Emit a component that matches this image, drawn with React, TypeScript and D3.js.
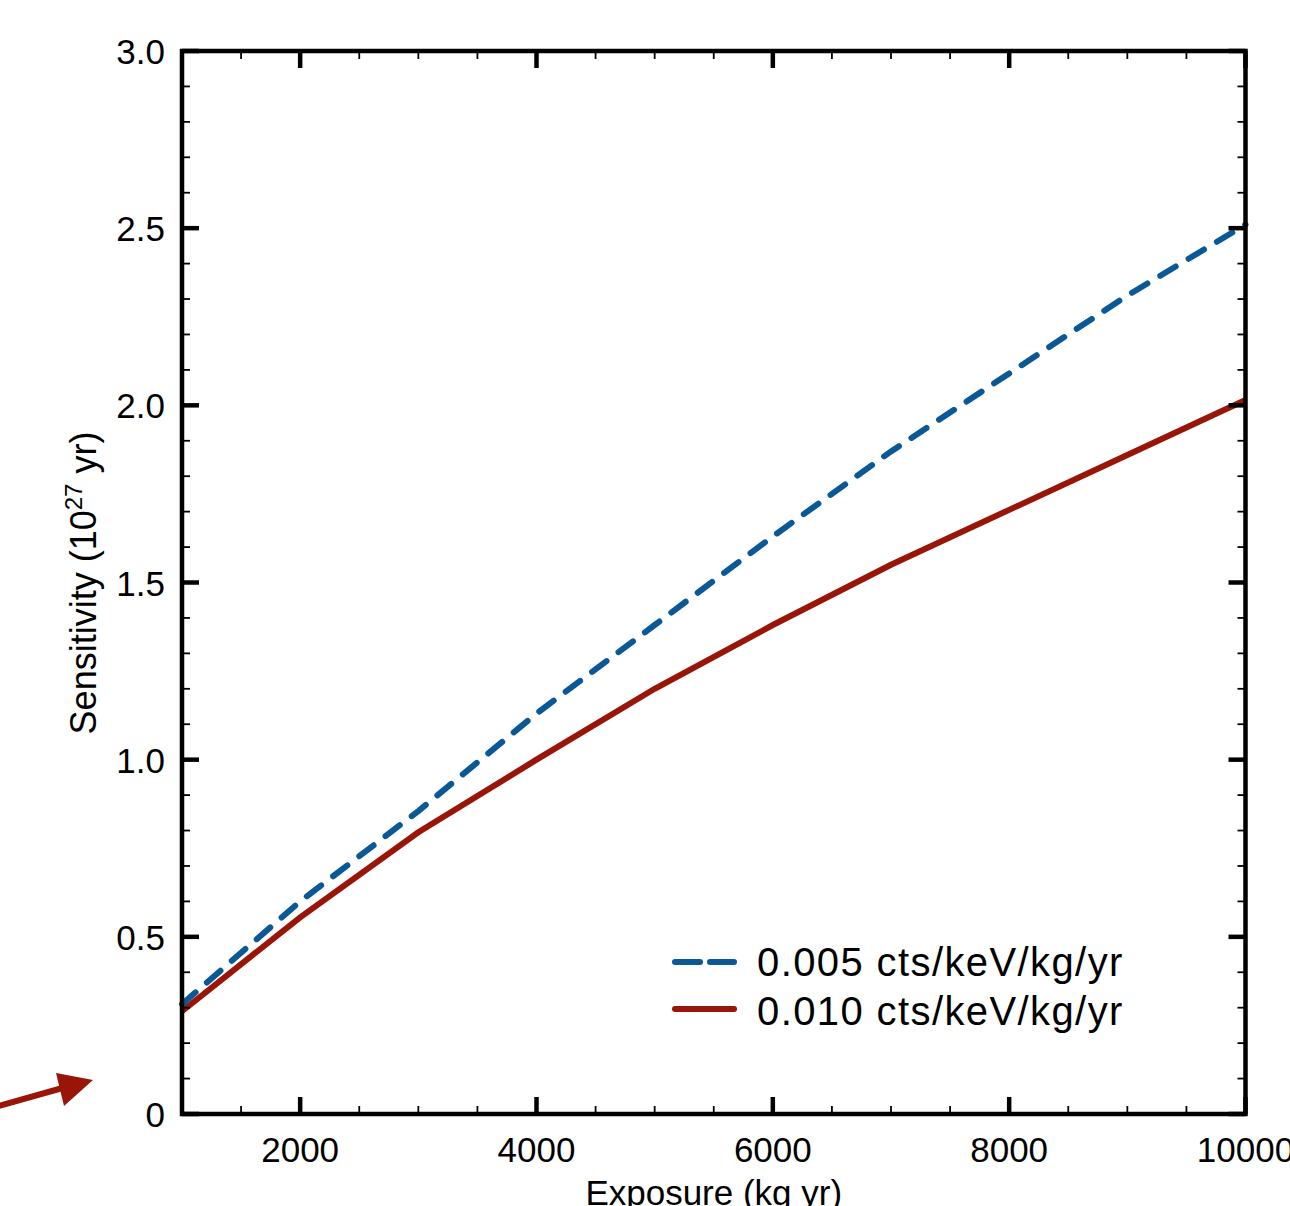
import React from "react"
import * as d3 from "d3"

// exposure (kg yr) vs sensitivity (10^27 yr)
const exposure = [1000, 2000, 3000, 4000, 5000, 6000, 7000, 8000, 9000, 10000]
const sens005 = [0.31, 0.60, 0.855, 1.13, 1.38, 1.63, 1.87, 2.09, 2.31, 2.51]
const sens010 = [0.29, 0.555, 0.795, 1.0, 1.20, 1.38, 1.55, 1.705, 1.86, 2.015]

const seriesNames = ["0.005 cts/keV/kg/yr", "0.010 cts/keV/kg/yr"]
const xTickLabels = ["2000", "4000", "6000", "8000", "10000"]
const yTickLabels = ["0", "0.5", "1.0", "1.5", "2.0", "2.5", "3.0"]

const BLUE = "#0b5897"
const RED = "#991508"
const FONT = "'Liberation Sans', Arial, Helvetica, sans-serif"

export default function App() {
    const left = 182, right = 1245.5, top = 51, bottom = 1114

    const x = d3.scaleLinear().domain([1000, 10000]).range([left, right])
    const y = d3.scaleLinear().domain([0, 3]).range([bottom, top])

    const xMajor = xTickLabels.map(Number)
    const xMinor = d3.range(1500, 10000, 500).filter(v => v % 2000 !== 0)
    const yMajor = yTickLabels.map(Number)
    const yMinor = d3.range(1, 30).filter(v => v % 5 !== 0).map(v => v / 10)

    const line = d3.line<number>()
        .x((d, i) => x(exposure[i]))
        .y(d => y(d))

    const majLen = 17, minLen = 8

    return (
        <svg width={1290} height={1206} style={{ position: "absolute", left: 0, top: 0, background: "white" }}
            fontFamily={FONT}>
            {/* curves */}
            <path d={line(sens010) || ""} fill="none" stroke={RED} strokeWidth={6} />
            <path d={line(sens005) || ""} fill="none" stroke={BLUE} strokeWidth={6}
                strokeDasharray="18 15" strokeLinecap="round" />

            {/* minor ticks */}
            <g stroke="black" strokeWidth={1.8}>
                {xMinor.map(v => (
                    <g key={"xm" + v}>
                        <line x1={x(v)} x2={x(v)} y1={bottom} y2={bottom - minLen} />
                        <line x1={x(v)} x2={x(v)} y1={top} y2={top + minLen} />
                    </g>
                ))}
                {yMinor.map(v => (
                    <g key={"ym" + v}>
                        <line x1={left} x2={left + minLen} y1={y(v)} y2={y(v)} />
                        <line x1={right} x2={right - minLen} y1={y(v)} y2={y(v)} />
                    </g>
                ))}
            </g>
            {/* major ticks */}
            <g stroke="black" strokeWidth={4.5}>
                {xMajor.map(v => (
                    <g key={"xM" + v}>
                        <line x1={x(v)} x2={x(v)} y1={bottom} y2={bottom - majLen} />
                        <line x1={x(v)} x2={x(v)} y1={top} y2={top + majLen} />
                    </g>
                ))}
                {yMajor.map(v => (
                    <g key={"yM" + v}>
                        <line x1={left} x2={left + majLen} y1={y(v)} y2={y(v)} />
                        <line x1={right} x2={right - majLen} y1={y(v)} y2={y(v)} />
                    </g>
                ))}
            </g>
            {/* frame */}
            <rect x={left} y={top} width={right - left} height={bottom - top}
                fill="none" stroke="black" strokeWidth={4.5} />

            {/* tick labels */}
            <g fontSize={35} fill="black">
                {xMajor.map((v, i) => (
                    <text key={"xl" + v} x={x(v)} y={bottom + 48} textAnchor="middle">{xTickLabels[i]}</text>
                ))}
                {yMajor.map((v, i) => (
                    <text key={"yl" + v} x={165} y={y(v) + 13} textAnchor="end">{yTickLabels[i]}</text>
                ))}
            </g>

            {/* axis titles */}
            <text x={(left + right) / 2} y={1205} textAnchor="middle" fontSize={35}>Exposure (kg yr)</text>
            <text transform={`translate(96, ${583}) rotate(-90)`} textAnchor="middle" fontSize={36}>
                Sensitivity (10<tspan fontSize={24} dy={-14}>27</tspan><tspan dy={14}> yr)</tspan>
            </text>

            {/* legend */}
            <g fontSize={40} letterSpacing={1.4}>
                <line x1={675} x2={734} y1={962} y2={962} stroke={BLUE} strokeWidth={6}
                    strokeDasharray="25 10" strokeLinecap="round" />
                <text x={757} y={976}>{seriesNames[0]}</text>
                <line x1={675} x2={734} y1={1009} y2={1009} stroke={RED} strokeWidth={6} strokeLinecap="round" />
                <text x={757} y={1025}>{seriesNames[1]}</text>
            </g>

            {/* annotation arrow */}
            <line x1={-5} x2={66} y1={1107} y2={1087} stroke={RED} strokeWidth={6} />
            <path d="M93,1080 L56,1073 L64,1106 Z" fill={RED} />
        </svg>
    )
}
